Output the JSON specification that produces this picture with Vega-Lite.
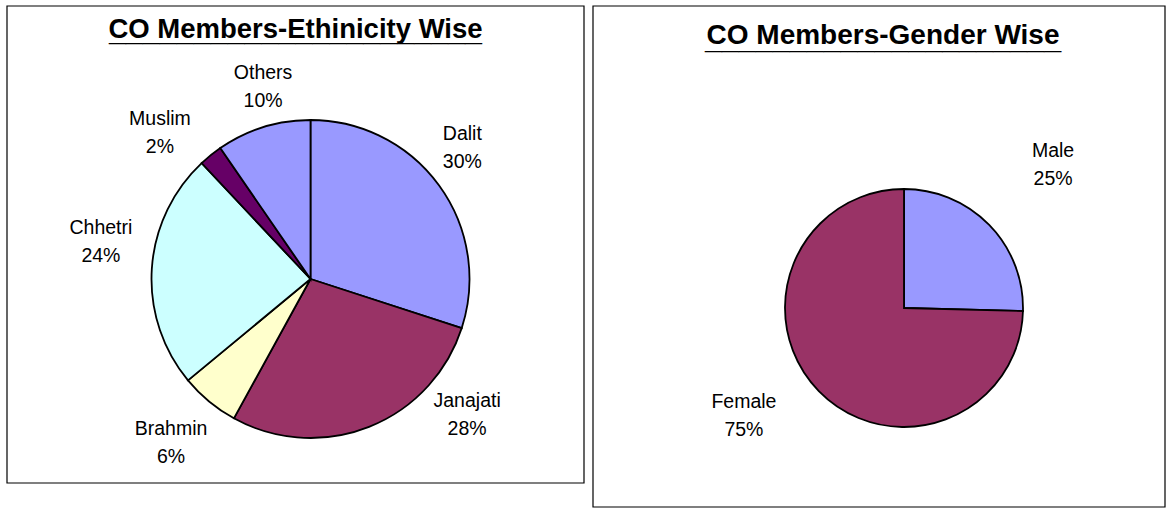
{
  "$schema": "https://vega.github.io/schema/vega-lite/v6.json",
  "padding": {"left": 6, "top": 5, "right": 0, "bottom": 0},
  "background": "white",
  "spacing": 7,
  "config": {"view": {"stroke": "#000000", "strokeWidth": 1}, "font": "Liberation Sans"},
  "resolve": {"scale": {"color": "independent"}},
  "datasets": {
    "eth": [
      {"order": 1, "cat": "Dalit", "value": 30, "label": "Dalit\n30%"},
      {"order": 2, "cat": "Janajati", "value": 28, "label": "Janajati\n28%"},
      {"order": 3, "cat": "Brahmin", "value": 6, "label": "Brahmin\n6%"},
      {"order": 4, "cat": "Chhetri", "value": 24, "label": "Chhetri\n24%"},
      {"order": 5, "cat": "Muslim", "value": 2.4, "label": "Muslim\n2%"},
      {"order": 6, "cat": "Others", "value": 9.6, "label": "Others\n10%"}
    ],
    "gen": [
      {"order": 1, "cat": "Male", "value": 25.4, "label": "Male\n25%"},
      {"order": 2, "cat": "Female", "value": 74.6, "label": "Female\n75%"}
    ]
  },
  "hconcat": [
    {
      "width": 577,
      "height": 477,
      "title": {
        "text": "CO Members-Ethinicity Wise",
        "subtitle": "______________________",
        "anchor": "middle",
        "frame": "group",
        "offset": -41.5,
        "font": "Liberation Sans",
        "fontSize": 27.5,
        "fontWeight": "bold",
        "color": "#000000",
        "subtitleFont": "Liberation Sans",
        "subtitleFontSize": 30.5,
        "subtitleFontWeight": "bold",
        "subtitleColor": "#000000",
        "subtitlePadding": -27
      },
      "layer": [
        {
          "data": {"values": [{}]},
          "mark": {"type": "rect", "fill": "#FFFFFF", "stroke": "#000000", "strokeWidth": 1.2}
        },
        {
          "data": {"name": "eth"},
          "encoding": {
            "theta": {"field": "value", "type": "quantitative", "stack": true},
            "order": {"field": "order", "type": "quantitative"}
          },
          "layer": [
            {
              "mark": {"type": "arc", "outerRadius": 159, "stroke": "#000000", "strokeWidth": 1.8, "xOffset": 15, "yOffset": 34.5},
              "encoding": {
                "color": {
                  "field": "cat", "type": "nominal", "legend": null,
                  "scale": {
                    "domain": ["Dalit", "Janajati", "Brahmin", "Chhetri", "Muslim", "Others"],
                    "range": ["#9999FF", "#993366", "#FFFFCC", "#CCFFFF", "#660066", "#9999FF"]
                  }
                }
              }
            },
            {
              "mark": {"type": "text", "radius": 200, "dx": 5, "dy": 7.5, "fontSize": 19.5, "lineBreak": "\n", "lineHeight": 28, "align": "center", "baseline": "middle", "color": "#000000"},
              "encoding": {"detail": {"field": "cat", "type": "nominal"}, "text": {"condition": {"test": "datum.cat === 'Dalit'", "field": "label", "type": "nominal"}, "value": ""}}
            },
            {
              "mark": {"type": "text", "radius": 200, "dx": 98, "dy": -29, "fontSize": 19.5, "lineBreak": "\n", "lineHeight": 28, "align": "center", "baseline": "middle", "color": "#000000"},
              "encoding": {"detail": {"field": "cat", "type": "nominal"}, "text": {"condition": {"test": "datum.cat === 'Janajati'", "field": "label", "type": "nominal"}, "value": ""}}
            },
            {
              "mark": {"type": "text", "radius": 200, "dx": 3, "dy": 30, "fontSize": 19.5, "lineBreak": "\n", "lineHeight": 28, "align": "center", "baseline": "middle", "color": "#000000"},
              "encoding": {"detail": {"field": "cat", "type": "nominal"}, "text": {"condition": {"test": "datum.cat === 'Brahmin'", "field": "label", "type": "nominal"}, "value": ""}}
            },
            {
              "mark": {"type": "text", "radius": 200, "dx": 5, "dy": -3.5, "fontSize": 19.5, "lineBreak": "\n", "lineHeight": 28, "align": "center", "baseline": "middle", "color": "#000000"},
              "encoding": {"detail": {"field": "cat", "type": "nominal"}, "text": {"condition": {"test": "datum.cat === 'Chhetri'", "field": "label", "type": "nominal"}, "value": ""}}
            },
            {
              "mark": {"type": "text", "radius": 200, "dx": -10, "dy": 30, "fontSize": 19.5, "lineBreak": "\n", "lineHeight": 28, "align": "center", "baseline": "middle", "color": "#000000"},
              "encoding": {"detail": {"field": "cat", "type": "nominal"}, "text": {"condition": {"test": "datum.cat === 'Muslim'", "field": "label", "type": "nominal"}, "value": ""}}
            },
            {
              "mark": {"type": "text", "radius": 200, "dx": 27, "dy": 19, "fontSize": 19.5, "lineBreak": "\n", "lineHeight": 28, "align": "center", "baseline": "middle", "color": "#000000"},
              "encoding": {"detail": {"field": "cat", "type": "nominal"}, "text": {"condition": {"test": "datum.cat === 'Others'", "field": "label", "type": "nominal"}, "value": ""}}
            }
          ]
        }
      ]
    },
    {
      "width": 572,
      "height": 501,
      "title": {
        "text": "CO Members-Gender Wise",
        "subtitle": "_____________________",
        "anchor": "middle",
        "frame": "group",
        "offset": -49,
        "dx": 4,
        "font": "Liberation Sans",
        "fontSize": 28,
        "fontWeight": "bold",
        "color": "#000000",
        "subtitleFont": "Liberation Sans",
        "subtitleFontSize": 30.5,
        "subtitleFontWeight": "bold",
        "subtitleColor": "#000000",
        "subtitlePadding": -26
      },
      "layer": [
        {
          "data": {"values": [{}]},
          "mark": {"type": "rect", "fill": "#FFFFFF", "stroke": "#000000", "strokeWidth": 1.2}
        },
        {
          "data": {"name": "gen"},
          "encoding": {
            "theta": {"field": "value", "type": "quantitative", "stack": true},
            "order": {"field": "order", "type": "quantitative"}
          },
          "layer": [
            {
              "mark": {"type": "arc", "outerRadius": 119, "stroke": "#000000", "strokeWidth": 1.8, "xOffset": 25, "yOffset": 51.5},
              "encoding": {
                "color": {
                  "field": "cat", "type": "nominal", "legend": null,
                  "scale": {"domain": ["Male", "Female"], "range": ["#9999FF", "#993366"]}
                }
              }
            },
            {
              "mark": {"type": "text", "radius": 160, "dx": 59.5, "dy": 6.5, "fontSize": 19.5, "lineBreak": "\n", "lineHeight": 28, "align": "center", "baseline": "middle", "color": "#000000"},
              "encoding": {"detail": {"field": "cat", "type": "nominal"}, "text": {"condition": {"test": "datum.cat === 'Male'", "field": "label", "type": "nominal"}, "value": ""}}
            },
            {
              "mark": {"type": "text", "radius": 160, "dx": -20.5, "dy": 33.3, "fontSize": 19.5, "lineBreak": "\n", "lineHeight": 28, "align": "center", "baseline": "middle", "color": "#000000"},
              "encoding": {"detail": {"field": "cat", "type": "nominal"}, "text": {"condition": {"test": "datum.cat === 'Female'", "field": "label", "type": "nominal"}, "value": ""}}
            }
          ]
        }
      ]
    }
  ]
}
